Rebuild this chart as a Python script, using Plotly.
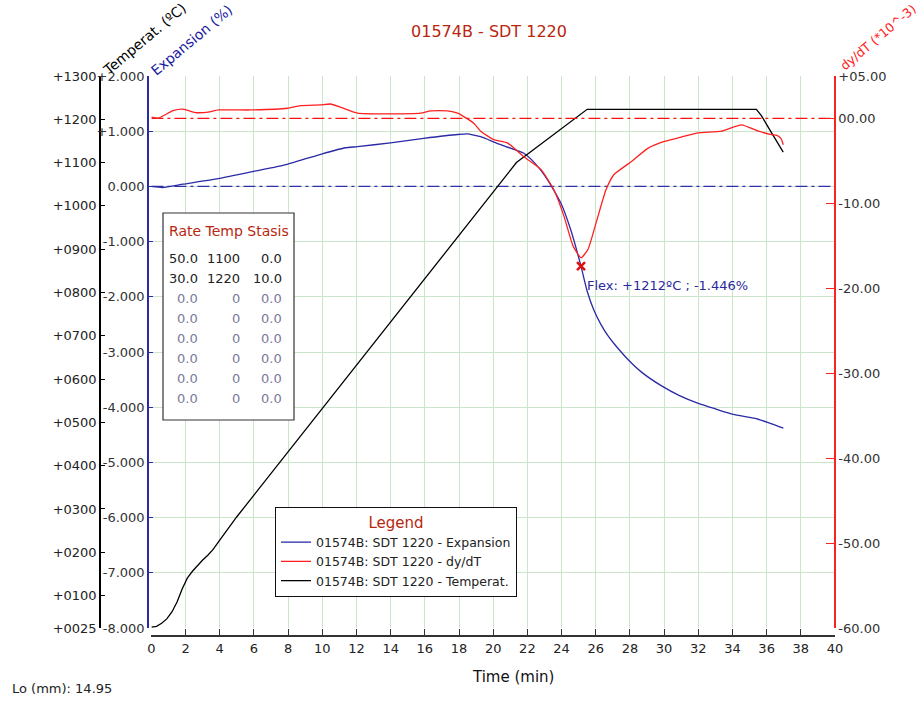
import plotly.graph_objects as go

# ---------------- data ----------------
t_exp = [0, 0.65, 1.85, 3.9, 5.96, 7.95, 10.0, 11.35, 12.06, 13.99, 15.93, 17.92, 18.5, 18.86,
         19.27, 20.3, 21.79, 22.5, 23.2, 23.97, 24.55, 25.14, 25.5, 25.9, 26.3, 26.7, 27.1,
         27.9, 28.66, 29.83, 30.9, 32.0, 33.0, 34.05, 35.28, 36.1, 36.98]
expansion = [0, -0.02, 0.04, 0.14, 0.27, 0.40, 0.59, 0.70, 0.72, 0.79, 0.87, 0.94, 0.95, 0.93,
             0.90, 0.77, 0.60, 0.40, 0.11, -0.31, -0.80, -1.45, -1.90, -2.25, -2.50, -2.70, -2.86,
             -3.14, -3.36, -3.61, -3.79, -3.93, -4.03, -4.13, -4.20, -4.28, -4.38]

t_dydt = [0, 0.4, 1.27, 1.85, 2.56, 3.32, 3.91, 5.78, 7.95, 8.71, 9.88, 10.47, 11.06, 12.06,
          15.75, 16.34, 17.34, 17.92, 18.86, 19.27, 20.03, 20.85, 21.79, 22.79, 23.55, 24.14,
          24.67, 25.14, 25.55, 26.02, 26.6, 27.07, 28.07, 29.07, 30.01, 31.0, 32.0, 33.35,
          34.53, 35.52, 36.29, 36.6, 36.85, 36.97]
dydt = [0.15, 0.03, 0.93, 1.1, 0.7, 0.74, 1.0, 1.0, 1.2, 1.5, 1.6, 1.7, 1.33, 0.62,
        0.62, 0.9, 0.9, 0.62, -0.55, -1.5, -2.5, -2.9, -4.5, -6.0, -8.4, -11.5,
        -15.0, -16.4, -15.4, -12.3, -8.4, -6.6, -5.1, -3.5, -2.7, -2.2, -1.7, -1.5,
        -0.75, -1.5, -1.9, -2.0, -2.4, -3.1]

t_temp = [0, 0.3, 0.6, 0.9, 1.2, 1.5, 1.8, 2.1, 2.4, 2.7, 3.0, 3.3, 3.6, 4.0, 4.5, 5.0,
          21.36, 25.5, 35.4, 35.7, 36.3, 36.97]
temperature = [27, 29, 36, 46, 62, 85, 115, 140, 156, 170, 182, 193, 206, 228, 255, 282,
               1100, 1223, 1223, 1208, 1168, 1124]

flex_t = [25.14]
flex_exp = [-1.446]
flex_text = "Flex: +1212ºC ; -1.446%"

ref_t = [0, 40]
ref_zero = [0, 0]

x_ticks = list(range(0, 41, 2))
exp_ticks = [2, 1, 0, -1, -2, -3, -4, -5, -6, -7, -8]
exp_ticktext = ["+2.000", "+1.000", "0.000", "-1.000", "-2.000", "-3.000", "-4.000",
                "-5.000", "-6.000", "-7.000", "-8.000"]
temp_ticks = [1300, 1200, 1100, 1000, 900, 800, 700, 600, 500, 400, 300, 200, 100, 25]
temp_ticktext = ["+1300", "+1200", "+1100", "+1000", "+0900", "+0800", "+0700", "+0600",
                 "+0500", "+0400", "+0300", "+0200", "+0100", "+0025"]
dydt_ticks = [5, 0, -10, -20, -30, -40, -50, -60]
dydt_ticktext = ["+05.00", "00.00", "-10.00", "-20.00", "-30.00", "-40.00", "-50.00", "-60.00"]

table_header = "Rate Temp Stasis"
table_rate = ["50.0", "30.0", "0.0", "0.0", "0.0", "0.0", "0.0", "0.0"]
table_temp = ["1100", "1220", "0", "0", "0", "0", "0", "0"]
table_stasis = ["0.0", "10.0", "0.0", "0.0", "0.0", "0.0", "0.0", "0.0"]

names = ["01574B: SDT 1220 - Expansion", "01574B: SDT 1220 - dy/dT", "01574B: SDT 1220 - Temperat."]

# ---------------- layout helpers ----------------
W, H = 922, 703
L, R, T, B = 100, 835, 76, 636
def px(x):
    return (x - L) / (R - L)
def py(y):
    return (B - y) / (B - T)

FONT = "DejaVu Sans"
BLUE = "#2a2aa6"
RED = "#ff2020"
GRID = "#cbe5cb"
BROWN = "#b8260e"

fig = go.Figure()

fig.add_trace(go.Scatter(x=ref_t, y=ref_zero, mode="lines", yaxis="y3", showlegend=False,
                         line=dict(color="#ff1010", width=1.3, dash="12px,4px,3px,4px"),
                         hoverinfo="skip"))
fig.add_trace(go.Scatter(x=ref_t, y=ref_zero, mode="lines", yaxis="y", showlegend=False,
                         line=dict(color="#3030a8", width=1.3, dash="12px,4px,3px,4px"),
                         hoverinfo="skip"))

fig.add_trace(go.Scatter(x=t_exp, y=expansion, mode="lines", name=names[0], yaxis="y",
                         line=dict(color=BLUE, width=1.3, shape="spline", smoothing=0.5)))
fig.add_trace(go.Scatter(x=t_dydt, y=dydt, mode="lines", name=names[1], yaxis="y3",
                         line=dict(color=RED, width=1.3, shape="spline", smoothing=0.5)))
fig.add_trace(go.Scatter(x=t_temp, y=temperature, mode="lines", name=names[2], yaxis="y2",
                         line=dict(color="#000000", width=1.3)))
fig.add_trace(go.Scatter(x=flex_t, y=flex_exp, mode="markers", yaxis="y", showlegend=False,
                         marker=dict(symbol="x-thin", size=8, line=dict(color="#e01010", width=2.5))))

dom = [py(628), 1]
fig.update_layout(
    width=W, height=H,
    margin=dict(l=L, r=W - R, t=T, b=H - B, pad=0),
    paper_bgcolor="white", plot_bgcolor="white",
    font=dict(family=FONT, size=13, color="#222"),
    title=dict(text="01574B - SDT 1220", x=489 / W, xanchor="center", y=1 - 31 / H,
               yanchor="middle", font=dict(size=16, color=BROWN, family=FONT)),
    xaxis=dict(range=[0, 40], domain=[px(151.4), 1], anchor="free", position=0,
               tickvals=x_ticks, ticks="inside", ticklen=6, tickcolor="#333",
               showline=True, linecolor="#333", linewidth=2,
               showgrid=True, gridcolor=GRID, gridwidth=1.2, zeroline=False,
               tickfont=dict(size=13, color="#222")),
    yaxis=dict(range=[-8, 2], domain=dom, anchor="free", position=px(148), side="left",
               tickvals=exp_ticks, ticktext=exp_ticktext, ticks="inside", ticklen=4,
               tickcolor=BLUE, showline=True, linecolor=BLUE, linewidth=1.5,
               showgrid=True, gridcolor=GRID, gridwidth=1.2, zeroline=False,
               tickfont=dict(size=13, color="#333")),
    yaxis2=dict(range=[25, 1300], domain=dom, anchor="free", position=0, overlaying="y",
                side="left", tickvals=temp_ticks, ticktext=temp_ticktext, ticks="inside",
                ticklen=4, tickcolor="#000", showline=True, linecolor="#000", linewidth=1.5,
                showgrid=False, zeroline=False, tickfont=dict(size=13, color="#222")),
    yaxis3=dict(range=[-60, 5], domain=dom, anchor="free", position=1, overlaying="y",
                side="right", tickvals=dydt_ticks, ticktext=dydt_ticktext, ticks="inside",
                ticklen=8, tickcolor=RED, showline=True, linecolor=RED, linewidth=1.5,
                showgrid=False, zeroline=False, tickfont=dict(size=13, color="#333")),
    legend=dict(x=px(275), y=py(507), xanchor="left", yanchor="top",
                bgcolor="white", bordercolor="#111", borderwidth=1,
                font=dict(size=12.5, color="#222", family=FONT),
                title=dict(text="Legend", side="top center",
                           font=dict(size=15, color=BROWN, family=FONT)),
                tracegroupgap=0, itemwidth=30),
)

# table box
fig.add_shape(type="rect", xref="paper", yref="paper", x0=px(163), x1=px(294), y0=py(420),
              y1=py(213), line=dict(color="#333", width=1.2), fillcolor="white", layer="above")

anns = []
anns.append(dict(text=table_header, x=px(228.5), y=py(231), xanchor="center", yanchor="middle",
                 font=dict(size=14, color=BROWN)))
col_right = [200, 242, 284]
for i in range(len(table_rate)):
    yy = py(258 + 20 * i)
    col = "#222" if i < 2 else "#7a7a9a"
    for cx, vals in zip(col_right, [table_rate, table_temp, table_stasis]):
        anns.append(dict(text=vals[i], x=px(cx), y=yy, xanchor="right", yanchor="middle",
                         font=dict(size=13, color=col)))

# flex annotation
anns.append(dict(text=flex_text, x=25.4, y=-1.79, xref="x", yref="y", xanchor="left",
                 yanchor="middle", showarrow=False, font=dict(size=13, color="#2a2aa0")))

# rotated axis titles (kept fully inside the page)
anns.append(dict(text="Temperat. (ºC)", x=px(97), y=py(81), xanchor="left", yanchor="bottom",
                 textangle=-40, font=dict(size=14, color="#000")))
anns.append(dict(text="Expansion (%)", x=px(145), y=py(81), xanchor="left", yanchor="bottom",
                 textangle=-40, font=dict(size=14, color="#1a1aa0")))
anns.append(dict(text="dy/dT (*10^-3)", x=px(834), y=py(76), xanchor="left", yanchor="bottom",
                 textangle=-40, font=dict(size=12.5, color=RED)))

# x-axis title and footer
anns.append(dict(text="Time (min)", x=px(513), y=py(677), xanchor="center", yanchor="middle",
                 font=dict(size=15, color="#111")))
anns.append(dict(text="Lo (mm): 14.95", x=px(10), y=py(688), xanchor="left", yanchor="middle",
                 font=dict(size=13, color="#222")))

for a in anns:
    a.setdefault("xref", "paper")
    a.setdefault("yref", "paper")
    a.setdefault("showarrow", False)
    fig.add_annotation(**a)

fig.write_html("out.html", config={"displayModeBar": False},
               post_script="document.body.style.margin='0';document.body.style.overflow='hidden';")
